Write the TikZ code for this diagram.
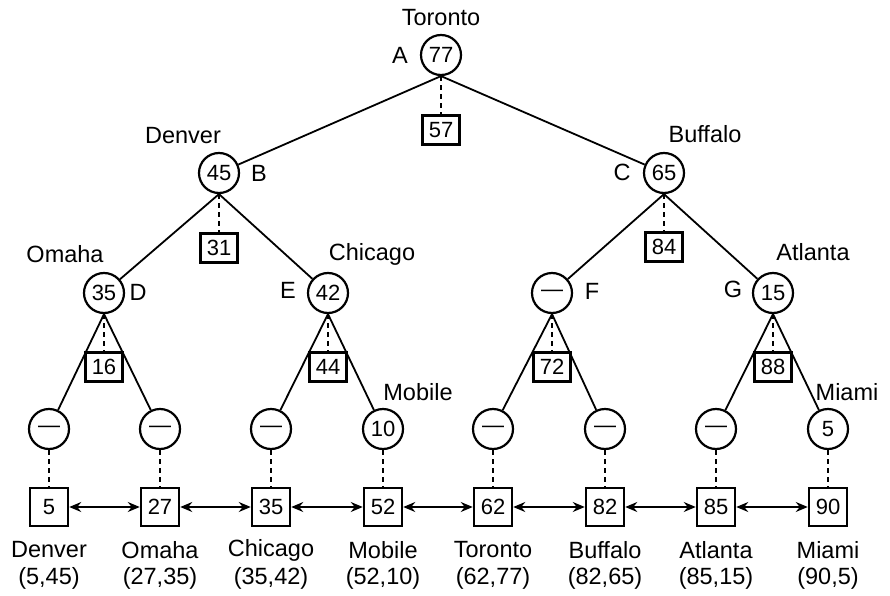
\documentclass[tikz,border=0pt]{standalone}
\usepackage{fontspec}
\setmainfont{Liberation Sans}
\usetikzlibrary{arrows.meta,calc}
\begin{document}
\begin{tikzpicture}[x=1pt,y=-1pt,
  vnode/.style={circle,draw,line width=2.2pt,minimum size=40pt,inner sep=0pt,
    font=\fontsize{22}{24}\selectfont},
  keybox/.style={draw,line width=2.5pt,minimum width=37pt,minimum height=29pt,inner sep=0pt,
    font=\fontsize{22}{24}\selectfont},
  leafbox/.style={draw,line width=2.5pt,minimum width=38pt,minimum height=38pt,inner sep=0pt,
    font=\fontsize{22}{24}\selectfont},
  lbl/.style={inner sep=0pt,font=\fontsize{23.5}{26}\selectfont},
  edge/.style={line width=1.8pt},
  link/.style={line width=1.9pt,dash pattern=on 5pt off 4pt},
  chain/.style={line width=1.6pt,{Stealth[length=12pt,width=10pt,inset=4pt]}-{Stealth[length=12pt,width=10pt,inset=4pt]}}
]
\useasboundingbox (0,0) rectangle (890,596);

% internal nodes
\node[vnode] (A) at (441,55) {77};
\node[vnode] (B) at (219,173) {45};
\node[vnode] (C) at (664,173) {65};
\node[vnode] (D) at (104,293) {35};
\node[vnode] (E) at (328,293) {42};
\node[vnode] (F) at (552,293) {---};
\node[vnode] (G) at (773,293) {15};

% leaf nodes
\node[vnode] (l1) at (49,429) {---};
\node[vnode] (l2) at (160,429) {---};
\node[vnode] (l3) at (271,429) {---};
\node[vnode] (l4) at (383,429) {10};
\node[vnode] (l5) at (493,429) {---};
\node[vnode] (l6) at (605,429) {---};
\node[vnode] (l7) at (716,429) {---};
\node[vnode] (l8) at (828,429) {5};

% key boxes under internal nodes
\node[keybox] (kA) at (441,130) {57};
\node[keybox] (kB) at (219,248) {31};
\node[keybox] (kC) at (664,247) {84};
\node[keybox] (kD) at (104,367) {16};
\node[keybox] (kE) at (328,367) {44};
\node[keybox] (kF) at (552,367) {72};
\node[keybox] (kG) at (773,367) {88};

% key boxes of the leaf list
\node[leafbox] (b1) at (49,507) {5};
\node[leafbox] (b2) at (160,507) {27};
\node[leafbox] (b3) at (271,507) {35};
\node[leafbox] (b4) at (383,507) {52};
\node[leafbox] (b5) at (493,507) {62};
\node[leafbox] (b6) at (605,507) {82};
\node[leafbox] (b7) at (716,507) {85};
\node[leafbox] (b8) at (828,507) {90};

% tree edges
\draw[edge] (A.south) -- (B);
\draw[edge] (A.south) -- (C);
\draw[edge] (B.south) -- (D);
\draw[edge] (B.south) -- (E);
\draw[edge] (C.south) -- (F);
\draw[edge] (C.south) -- (G);
\draw[edge] (D.south) -- (l1);
\draw[edge] (D.south) -- (l2);
\draw[edge] (E.south) -- (l3);
\draw[edge] (E.south) -- (l4);
\draw[edge] (F.south) -- (l5);
\draw[edge] (F.south) -- (l6);
\draw[edge] (G.south) -- (l7);
\draw[edge] (G.south) -- (l8);

% dashed links to keys
\foreach \n in {A,B,C,D,E,F,G} \draw[link] (\n.south) -- (k\n.north);
\foreach \i in {1,...,8} \draw[link] (l\i.south) -- (b\i.north);

% doubly linked leaf list
\foreach \i/\j in {1/2,2/3,3/4,4/5,5/6,6/7,7/8} \draw[chain] (b\i.east) -- (b\j.west);

% node letters and city names
\node[lbl] (tA) at (441,18) {Toronto};
\node[lbl] (nA) at (400,55) {A};
\node[lbl] (tB) at (183,136) {Denver};
\node[lbl] (nB) at (259,173) {B};
\node[lbl] (tC) at (705,134) {Buffalo};
\node[lbl] (nC) at (622,172) {C};
\node[lbl] (tD) at (65,254) {Omaha};
\node[lbl] (nD) at (138,292) {D};
\node[lbl] (tE) at (372,254) {Chicago};
\node[lbl] (nE) at (288,290) {E};
\node[lbl] (nF) at (592,291) {F};
\node[lbl] (tG) at (813,252) {Atlanta};
\node[lbl] (nG) at (733,289) {G};
\node[lbl] (t4) at (418,392) {Mobile};
\node[lbl] (t8) at (847,392) {Miami};

% leaf list captions
\foreach \i/\c/\p in {1/Denver/{(5,45)},2/Omaha/{(27,35)},3/Chicago/{(35,42)},4/Mobile/{(52,10)},
                      5/Toronto/{(62,77)},6/Buffalo/{(82,65)},7/Atlanta/{(85,15)},8/Miami/{(90,5)}}{
  \node[lbl] (c\i) at ($(b\i)+(0,43)$) {\c};
  \node[lbl] (p\i) at ($(b\i)+(0,71)$) {\p};
}
\end{tikzpicture}
\end{document}
